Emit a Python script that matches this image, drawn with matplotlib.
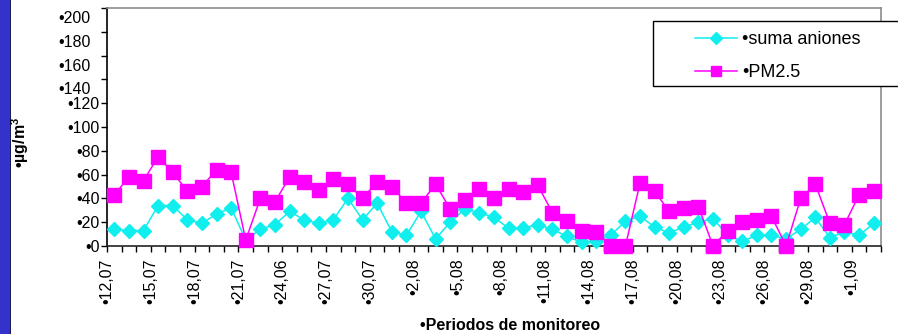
import numpy as np
import matplotlib.pyplot as plt
from matplotlib.patches import Rectangle
from matplotlib.transforms import ScaledTranslation

plt.rcParams['font.family'] = ['Liberation Sans', 'DejaVu Sans']
plt.rcParams['mathtext.fontset'] = 'custom'
plt.rcParams['mathtext.bf'] = 'Liberation Sans:bold'
plt.rcParams['mathtext.rm'] = 'Liberation Sans'

# daily sampling periods, 12 Jul - 2 Sep
tick_labels = ["•12,07", "•15,07", "•18,07", "•21,07", "•24,06", "•27,07",
               "•30,07", "•2,08", "•5,08", "•8,08", "•11,08", "•14,08",
               "•17,08", "•20,08", "•23,08", "•26,08", "•29,08", "•1,09"]

aniones = [14, 13, 13, 34, 34, 22, 19, 27, 32, 5,
           14, 18, 29, 22, 19, 22, 40, 22, 36, 12,
           9, 29, 6, 20, 31, 28, 24, 15, 15, 18,
           14, 8, 3, 4, 9, 21, 25, 16, 11, 16,
           20, 23, 9, 4, 9, 9, 6, 14, 24, 7,
           12, 9, 19]

pm25 = [43, 58, 55, 75, 62, 46, 50, 64, 62, 5,
        40, 37, 58, 54, 47, 56, 52, 40, 54, 50,
        36, 36, 52, 31, 39, 48, 40, 48, 45, 51,
        28, 21, 13, 12, 0, 0, 53, 46, 29, 32,
        33, 0, 13, 20, 22, 25, 0, 40, 52, 19,
        18, 43, 46]

W, H = 898, 334
fig = plt.figure(figsize=(W / 100, H / 100), dpi=100)
ax = fig.add_axes([107 / W, 1 - 246 / H, 774 / W, 238 / H])

x = np.arange(len(pm25))
ax.plot(x, aniones, color='#11EEEE', lw=1.1, marker='D', ms=7.5,
        label='•suma aniones', clip_on=False, zorder=3)
ax.plot(x, pm25, color='#FF00FF', lw=1.1, marker='s', ms=10,
        label='•PM2.5', clip_on=False, zorder=4)

ax.set_xlim(-0.5, len(pm25) - 0.5)
ax.set_ylim(0, 200)

# one tick per day, label every third
xt = np.arange(-0.5, len(pm25), 1)
xl = [''] * len(xt)
for k, lab in enumerate(tick_labels):
    xl[3 * k] = lab
ax.set_xticks(xt)
ax.set_xticklabels(xl, rotation=90, fontsize=11.5)
ax.tick_params(axis='x', direction='out', length=4, width=1, pad=5)

yt = np.arange(0, 201, 20)
ax.set_yticks(yt)
ax.set_yticklabels([f"•{v}" for v in yt], fontsize=11.5)
ax.tick_params(axis='y', direction='out', length=4.3, width=1, pad=1)
shift = ScaledTranslation(-9 / 100, -9 / 100, fig.dpi_scale_trans)
for v, lab in zip(yt, ax.get_yticklabels()):
    if v >= 140:
        lab.set_transform(lab.get_transform() + shift)

ax.spines['left'].set_color('black')
ax.spines['bottom'].set_color('#222222')
ax.spines['top'].set_color('#8c8c8c')
ax.spines['right'].set_color('#8c8c8c')
for s in ax.spines.values():
    s.set_linewidth(1.2)

fig.text(20 / W, 1 - 142 / H, r"•µg/m$^{\mathbf{3}}$", rotation=90, fontsize=11.5,
         fontweight='bold', ha='center', va='center')
fig.text(510 / W, 1 - 325 / H, "•Periodos de monitoreo", fontsize=11.5,
         fontweight='bold', ha='center', va='center')

# left band
fig.patches.append(Rectangle((0, 0), 10 / W, 1, transform=fig.transFigure,
                             facecolor='#3333CC', edgecolor='none'))
fig.patches.append(Rectangle((10 / W, 0), 1.2 / W, 1, transform=fig.transFigure,
                             facecolor='#1a1a55', edgecolor='none'))

# legend box
fig.patches.append(Rectangle((653 / W, 1 - 86 / H), 260 / W, 64.5 / H,
                             transform=fig.transFigure, facecolor='white',
                             edgecolor='black', lw=1, zorder=5))
leg = fig.legend(loc='upper left', bbox_to_anchor=(695 / W, 1 - 31 / H),
                 frameon=False, fontsize=13, borderpad=0, borderaxespad=0,
                 handlelength=2.35, handletextpad=0.25, labelspacing=0.9,
                 markerscale=0.75)
leg.set_zorder(6)

fig.savefig('out.png', dpi=100)
